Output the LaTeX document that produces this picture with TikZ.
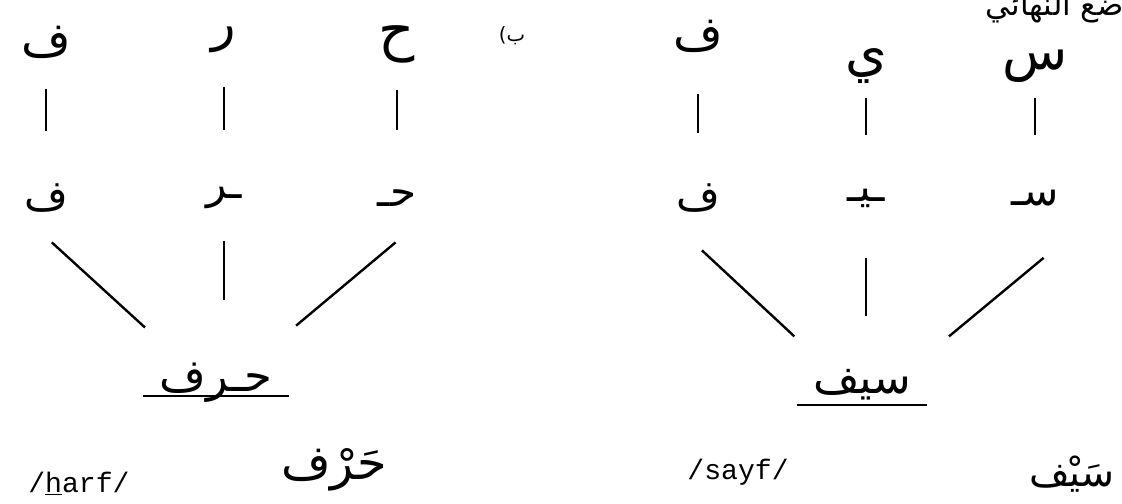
\documentclass[tikz,border=0pt]{standalone}
\usepackage{fontspec}
\usetikzlibrary{calc}
\TeXXeTstate=1
\newfontfamily\arabicfont[Script=Arabic]{DejaVu Sans}
\newfontfamily\typefont{Liberation Mono}

\tikzset{
  harf/.style={font=\arabicfont\fontsize{34}{40}\selectfont, inner sep=0pt},
  shakl/.style={font=\arabicfont\fontsize{30}{36}\selectfont, inner sep=0pt},
  kalima/.style={font=\arabicfont\fontsize{32}{38}\selectfont, inner sep=0pt},
  translit/.style={font=\typefont\fontsize{20}{24}\selectfont, inner sep=0pt},
  link/.style={line width=1.7pt},
  tasteer/.style={line width=1.4pt}
}

\begin{document}
\begin{tikzpicture}[x=0.025cm,y=-0.025cm]
\useasboundingbox (0,0) rectangle (1122,504);

% titre coupe en haut
\node[font=\arabicfont\fontsize{22}{24}\selectfont, inner sep=0pt, anchor=east] (titre) at (1124,8) {\beginR ضع النهائي\endR};

% (a) harf : lettres isolees
\node[harf] (t1) at (46,42) {ف};
\node[harf, font=\arabicfont\fontsize{36}{42}\selectfont] (t2) at (224,40) {ر};
\node[harf, font=\arabicfont\fontsize{40}{46}\selectfont] (t3) at (397,44) {ح};
\node[font=\arabicfont\fontsize{14}{16}\selectfont, inner sep=0pt] (lab) at (512,36) {\beginR ب)\endR};

% (b) sayf : lettres isolees
\node[harf] (t4) at (698,36) {ف};
\node[harf, font=\arabicfont\fontsize{38}{44}\selectfont] (t5) at (866,66) {ي};
\node[harf, font=\arabicfont\fontsize{38}{44}\selectfont] (t6) at (1035,66) {س};

% formes contextuelles
\node[shakl] (m1) at (46,198) {ف};
\node[shakl] (m2) at (224,198) {\beginR ـر\endR};
\node[shakl] (m3) at (397,198) {\beginR حـ\endR};
\node[shakl] (m4) at (698,198) {ف};
\node[shakl] (m5) at (866,198) {\beginR ـيـ\endR};
\node[shakl] (m6) at (1035,198) {\beginR سـ\endR};

% mots reunis
\node[kalima, minimum width=3.65cm] (w1) at (216,383) {\beginR حـرف\endR};
\node[kalima, minimum width=3.25cm] (w2) at (862,385) {\beginR سيف\endR};
\draw[tasteer] ([yshift=-3pt]w1.base west) -- ([yshift=-3pt]w1.base east);
\draw[tasteer] ([yshift=-8pt]w2.base west) -- ([yshift=-8pt]w2.base east);

% transcription et vocalisation
\node[translit] (r1) at (79,484) {/\underline{h}arf/};
\node[kalima, font=\arabicfont\fontsize{34}{40}\selectfont] (v1) at (334,470) {\beginR حَرْف\endR};
\node[translit] (r2) at (738,472) {/sayf/};
\node[kalima, font=\arabicfont\fontsize{28}{34}\selectfont] (v2) at (1072,474) {\beginR سَيْف\endR};

% traits verticaux
\foreach \i/\a/\b in {1/0.3/0.57, 2/0.3/0.57, 3/0.30/0.56, 4/0.36/0.6, 5/0.24/0.52, 6/0.24/0.52}
  \draw[link] ($(t\i)!\a!(m\i)$) -- ($(t\i)!\b!(m\i)$);

% traits vers le mot
\draw[link] ($(m1)!0.24!(w1)+(-35,0)$) -- ($(m1)!0.7!(w1)+(-20,0)$);
\draw[link] ($(m2)!0.23!(w1.center-|m2)$) -- ($(m2)!0.55!(w1.center-|m2)$);
\draw[link] ($(m3)!0.24!(w1)+(42,0)$) -- ($(m3)!0.69!(w1)+(24,0)$);
\draw[link] ($(m4)!0.28!(w2)+(-42,0)$) -- ($(m4)!0.74!(w2)+(-25,0)$);
\draw[link] ($(m5)!0.32!(w2.center-|m5)$) -- ($(m5)!0.63!(w2.center-|m5)$);
\draw[link] ($(m6)!0.32!(w2)+(64,0)$) -- ($(m6)!0.74!(w2)+(42,0)$);

\end{tikzpicture}
\end{document}
